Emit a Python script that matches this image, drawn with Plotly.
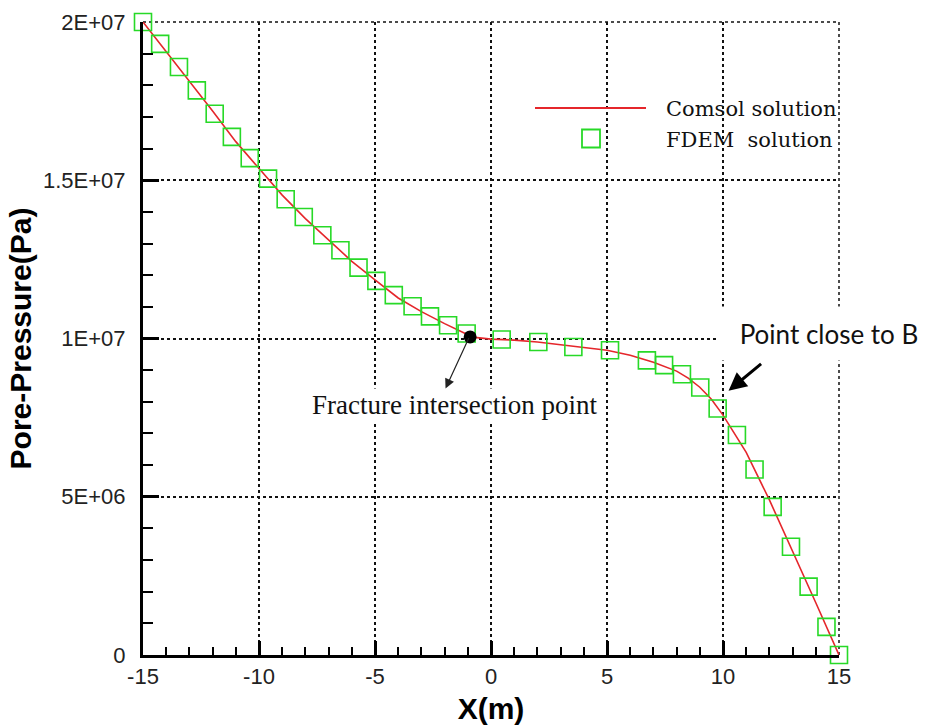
import plotly.graph_objects as go

# Comsol reference solution along the fracture line (x in m, pressure in units of 1E6 Pa)
comsol_x = [-15, -14, -13, -12, -11, -10, -9, -8, -7, -6, -5, -4, -3, -2, -1, -0.9,
            0, 1, 2, 3, 4, 5, 6, 7, 8, 8.5, 9, 9.5, 10, 11, 12, 13, 14, 15]
comsol_p = [20.0, 19.07, 18.15, 17.19, 16.22, 15.38, 14.53, 13.79, 13.10, 12.44, 11.85,
            11.28, 10.85, 10.47, 10.12, 10.05, 9.98, 9.95, 9.89, 9.80, 9.70, 9.63, 9.47,
            9.25, 8.97, 8.75, 8.46, 8.08, 7.58, 6.40, 4.90, 3.30, 1.65, 0.0]

# FDEM nodal results
fdem_x = [-15, -14.26, -13.45, -12.68, -11.91, -11.17, -10.40, -9.61, -8.85, -8.07,
          -7.27, -6.49, -5.71, -4.94, -4.19, -3.38, -2.63, -1.85, -1.05,
          0.46, 2.04, 3.55, 5.13, 6.72, 7.46, 8.23, 9.02, 9.77, 10.60, 11.36,
          12.14, 12.93, 13.69, 14.46, 15]
fdem_p = [20.0, 19.31, 18.58, 17.84, 17.10, 16.37, 15.70, 15.05, 14.40, 13.84,
          13.26, 12.79, 12.24, 11.82, 11.37, 11.02, 10.70, 10.42, 10.16,
          9.97, 9.89, 9.73, 9.63, 9.31, 9.16, 8.87, 8.45, 7.79, 6.95, 5.86,
          4.68, 3.42, 2.16, 0.89, 0.0]

# Fracture intersection point
junction_x = [-0.9]
junction_p = [10.05]

y_tickvals = [0, 5e6, 1e7, 1.5e7, 2e7]
y_ticktext = ["0", "5E+06", "1E+07", "1.5E+07", "2E+07"]
x_tickvals = [-15, -10, -5, 0, 5, 10, 15]
x_ticktext = ["-15", "-10", "-5", "0", "5", "10", "15"]

SCALE = 1e6
RED = "#e5262b"
GREEN = "#27d927"
GRID = dict(color="#111", width=1.5, dash="dot")

fig = go.Figure()
fig.add_trace(go.Scatter(
    x=comsol_x, y=[p * SCALE for p in comsol_p], mode="lines",
    line=dict(color=RED, width=1.6), name="Comsol solution",
    showlegend=False, cliponaxis=False))
fig.add_trace(go.Scatter(
    x=fdem_x, y=[p * SCALE for p in fdem_p], mode="markers",
    marker=dict(symbol="square-open", size=17, color=GREEN, line=dict(width=1.6, color=GREEN)),
    name="FDEM solution", showlegend=False, cliponaxis=False))
fig.add_trace(go.Scatter(
    x=junction_x, y=[p * SCALE for p in junction_p], mode="markers",
    marker=dict(symbol="circle", size=13, color="black"),
    showlegend=False, cliponaxis=False))

def px_x(px):
    return (px - 143) / 696

def px_y(py):
    return (655 - py) / 633

# Grid lines on the far edges of the frame
fig.add_shape(type="line", xref="paper", yref="paper", x0=0, x1=1, y0=1, y1=1,
              line=GRID, layer="below")
fig.add_shape(type="line", xref="paper", yref="paper", x0=1, x1=1, y0=0, y1=1,
              line=GRID, layer="below")

# Hand-drawn legend
fig.add_shape(type="line", xref="paper", yref="paper",
              x0=px_x(535), x1=px_x(646), y0=px_y(108), y1=px_y(108),
              line=dict(color=RED, width=2))
fig.add_shape(type="rect", xref="paper", yref="paper",
              x0=px_x(582), x1=px_x(600), y0=px_y(147.5), y1=px_y(129.5),
              line=dict(color=GREEN, width=1.8))
legend_font = dict(family="DejaVu Serif", size=21, color="#111")
fig.add_annotation(xref="paper", yref="paper", x=px_x(664), y=px_y(109),
                   xanchor="left", yanchor="middle", text="Comsol solution",
                   showarrow=False, font=legend_font)
fig.add_annotation(xref="paper", yref="paper", x=px_x(664), y=px_y(140),
                   xanchor="left", yanchor="middle", text="FDEM&nbsp; solution",
                   showarrow=False, font=legend_font)

# Fracture intersection callout
fig.add_annotation(x=-1.56, y=7.89 * SCALE, text="Fracture intersection point",
                   showarrow=False, bgcolor="white", borderpad=1,
                   font=dict(family="Liberation Serif", size=27, color="#111"))
fig.add_annotation(x=-1.96, y=8.42 * SCALE, ax=24, ay=-52, text="",
                   showarrow=True, arrowhead=2, arrowsize=1.6, arrowwidth=1.2,
                   arrowcolor="#222")

# Point close to B callout
fig.add_annotation(x=9.77, y=10.15 * SCALE, xanchor="left", yanchor="middle",
                   text="Point close to B", showarrow=False, bgcolor="white",
                   width=214, height=47, borderpad=3, align="center",
                   font=dict(family="Lato", size=26, color="#111"))
fig.add_annotation(x=10.24, y=8.35 * SCALE, ax=34, ay=-28, text="",
                   showarrow=True, arrowhead=2, arrowsize=1.2, arrowwidth=3,
                   arrowcolor="black")

tick_font = dict(family="Liberation Sans", size=22, color="#222")
title_font = dict(family="Liberation Sans", size=30, color="black")

fig.update_xaxes(
    range=[-15, 15], tickmode="array", tickvals=x_tickvals, ticktext=x_ticktext,
    ticks="inside", ticklen=14, tickwidth=3, tickcolor="black",
    showline=True, linecolor="black", linewidth=3, zeroline=False,
    showgrid=True, gridcolor="#111", griddash="dot", gridwidth=1.5,
    minor=dict(tickmode="linear", tick0=0, dtick=1, ticks="inside", ticklen=8,
               tickwidth=2, tickcolor="black", showgrid=False),
    tickfont=tick_font, ticklabelstandoff=0,
    title=dict(text="<b>X(m)</b>", font=title_font, standoff=10))
fig.update_yaxes(
    range=[0, 2e7], tickmode="array", tickvals=y_tickvals, ticktext=y_ticktext,
    ticks="inside", ticklen=16, tickwidth=3, tickcolor="black",
    showline=True, linecolor="black", linewidth=3, zeroline=False,
    showgrid=True, gridcolor="#111", griddash="dot", gridwidth=1.5,
    minor=dict(tickmode="linear", tick0=0, dtick=1e6, ticks="inside", ticklen=10,
               tickwidth=2, tickcolor="black", showgrid=False),
    tickfont=tick_font, ticklabelstandoff=10,
    title=dict(text="<b>Pore-Pressure(Pa)</b>", font=title_font, standoff=3))

fig.update_layout(
    width=925, height=727, autosize=False,
    margin=dict(l=143, r=86, t=22, b=72, autoexpand=False),
    plot_bgcolor="white", paper_bgcolor="white",
    showlegend=False)

fig.write_html("out.html")
